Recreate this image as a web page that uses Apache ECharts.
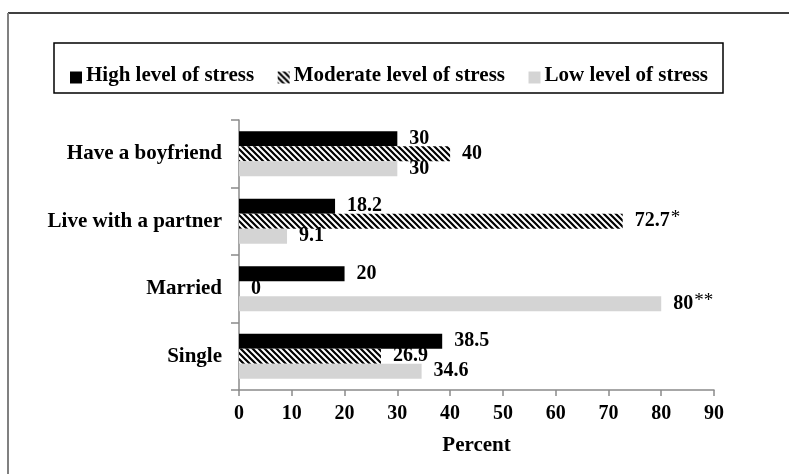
<!DOCTYPE html>
<html>
<head>
<meta charset="utf-8">
<script src="https://cdn.jsdelivr.net/npm/echarts@6/dist/echarts.min.js"></script>
<style>
html,body{margin:0;padding:0;background:#fff;}
#chart{width:789px;height:474px;}
</style>
</head>
<body>
<div id="chart"></div>
<script>
// Categories listed bottom-to-top (ECharts category y-axis starts at the bottom)
var categories = ['Single', 'Married', 'Live with a partner', 'Have a boyfriend'];
var highStress = [38.5, 20, 18.2, 30];
var moderateStress = [26.9, 0, 72.7, 40];
var lowStress = [34.6, 80, 9.1, 30];
var moderateMarks = ['', '', '*', ''];
var lowMarks = ['', '**', '', ''];
var seriesNames = ['High level of stress', 'Moderate level of stress', 'Low level of stress'];
var xTicks = [0, 10, 20, 30, 40, 50, 60, 70, 80, 90];

var FONT = 'Liberation Serif';
var LEGEND_FONT_SIZE = 21;

// hatch pattern "\\\\"
var tile = document.createElement('canvas');
tile.width = 6; tile.height = 6;
var c = tile.getContext('2d');
c.fillStyle = '#fff';
c.fillRect(0, 0, 6, 6);
c.strokeStyle = '#000';
c.lineWidth = 2.2;
c.beginPath();
c.moveTo(-1, -1); c.lineTo(7, 7);
c.moveTo(-1, 5); c.lineTo(1, 7);
c.moveTo(5, -1); c.lineTo(7, 1);
c.stroke();
var hatch = { image: tile, repeat: 'repeat' };

// legend layout: icon + text, spread between x=70 and x=708
var mc = document.createElement('canvas').getContext('2d');
mc.font = 'bold ' + LEGEND_FONT_SIZE + 'px "Liberation Serif"';
var widths = seriesNames.map(function (n) { return mc.measureText(n).width; });
var ICON = 12, ICON_TEXT = 4, START = 70, END = 708;
var sumW = widths.reduce(function (a, b) { return a + b; }, 0);
var gap = Math.max(6, (END - START - 3 * (ICON + ICON_TEXT) - sumW) / 2);
var legends = [], legendTexts = [];
var x = START;
seriesNames.forEach(function (n, i) {
  legends.push({
    data: [n], left: x, top: 71.5, padding: 0,
    itemWidth: ICON, itemHeight: ICON, icon: 'rect',
    formatter: function () { return ''; },
    textStyle: { fontSize: 12 }
  });
  legendTexts.push({
    type: 'text', left: x + ICON + ICON_TEXT, top: 65,
    style: { text: n, fontFamily: FONT, fontWeight: 'bold', fontSize: LEGEND_FONT_SIZE, fill: '#000' }
  });
  x += ICON + ICON_TEXT + widths[i] + gap;
});

function labelFor(marks) {
  return {
    show: true,
    position: 'right',
    distance: 12,
    formatter: function (p) {
      var m = marks ? marks[p.dataIndex] : '';
      return '{v|' + p.value + '}' + (m ? '{s|' + m + '}' : '');
    },
    rich: {
      v: { fontFamily: FONT, fontWeight: 'bold', fontSize: 20, color: '#000' },
      s: { fontFamily: FONT, fontWeight: 'normal', fontSize: 19, color: '#000', verticalAlign: 'top', padding: [0, 0, 6, 1] }
    }
  };
}

var chart = echarts.init(document.getElementById('chart'), null, { renderer: 'canvas' });
chart.setOption({
  backgroundColor: '#fff',
  animation: false,
  graphic: [
    { type: 'line', shape: { x1: 8, y1: 13, x2: 789, y2: 13 }, style: { stroke: '#000', lineWidth: 1.5 } },
    { type: 'line', shape: { x1: 8, y1: 13, x2: 8, y2: 474 }, style: { stroke: '#808080', lineWidth: 2 } },
    { type: 'rect', shape: { x: 54, y: 43, width: 669, height: 50 }, style: { fill: 'none', stroke: '#000', lineWidth: 1.5 } }
  ].concat(legendTexts),
  legend: legends,
  grid: { left: 239, right: 75, top: 120, bottom: 84, containLabel: false },
  xAxis: {
    type: 'value',
    min: 0, max: 90, interval: 10,
    name: 'Percent',
    nameLocation: 'middle',
    nameGap: 45,
    nameTextStyle: { fontFamily: FONT, fontWeight: 'bold', fontSize: 21, color: '#000' },
    axisLine: { show: true, lineStyle: { color: '#8a8a8a', width: 1.5 } },
    axisTick: { show: true, length: 6, lineStyle: { color: '#8a8a8a', width: 1.5 } },
    axisLabel: { margin: 14, fontFamily: FONT, fontWeight: 'bold', fontSize: 20, color: '#000',
      formatter: function (v) { return xTicks.indexOf(v) >= 0 ? String(v) : ''; } },
    splitLine: { show: false }
  },
  yAxis: {
    type: 'category',
    data: categories,
    axisLine: { show: true, lineStyle: { color: '#8a8a8a', width: 1.5 } },
    axisTick: { show: true, length: 8, lineStyle: { color: '#8a8a8a', width: 1.5 } },
    axisLabel: { margin: 17, fontFamily: FONT, fontWeight: 'bold', fontSize: 21, color: '#000' },
    splitLine: { show: false }
  },
  series: [
    { name: 'High level of stress', type: 'bar', data: highStress, barWidth: 15, barGap: '0%',
      itemStyle: { color: '#000' }, label: labelFor(null) },
    { name: 'Moderate level of stress', type: 'bar', data: moderateStress, barWidth: 15, barGap: '0%',
      itemStyle: { color: hatch }, label: labelFor(moderateMarks) },
    { name: 'Low level of stress', type: 'bar', data: lowStress, barWidth: 15, barGap: '0%',
      itemStyle: { color: '#d4d4d4' }, label: labelFor(lowMarks) }
  ]
});
</script>
</body>
</html>
